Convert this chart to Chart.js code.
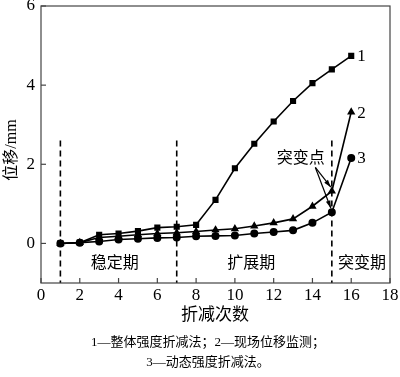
<!DOCTYPE html>
<html>
<head>
<meta charset="utf-8">
<script src="https://cdn.jsdelivr.net/npm/chart.js@4.4.1/dist/chart.umd.min.js"></script>
<style>
  body { margin: 0; background: #fff; }
  #wrap { width: 400px; height: 377px; position: relative; }
</style>
</head>
<body>
<div id="wrap"><canvas id="chart"></canvas></div>
<script>
// --- data ---
const steps = [1, 2, 3, 4, 5, 6, 7, 8, 9, 10, 11, 12, 13, 14, 15, 16];
const overallSrm = [0, 0.02, 0.22, 0.25, 0.31, 0.4, 0.42, 0.47, 1.1, 1.9, 2.52, 3.08, 3.6, 4.05, 4.4, 4.74];
const fieldMonitor = [0, 0.02, 0.15, 0.18, 0.22, 0.25, 0.27, 0.3, 0.34, 0.37, 0.44, 0.52, 0.62, 0.94, 1.32, 3.32];
const dynamicSrm = [0, 0.02, 0.05, 0.1, 0.12, 0.14, 0.15, 0.18, 0.19, 0.2, 0.25, 0.29, 0.33, 0.52, 0.79, 2.16];
const seriesNames = ['1', '2', '3'];
const phaseBounds = [1, 7, 15];
const phaseNames = ['稳定期', '扩展期', '突变期'];
const xTicks = [0, 2, 4, 6, 8, 10, 12, 14, 16, 18];
const yTicks = [0, 2, 4, 6];
const captionLines = ['1—整体强度折减法；2—现场位移监测；', '3—动态强度折减法。'];

const serif = '"Times New Roman", "Liberation Serif", serif';
const cjk = '"Times New Roman", "Noto Sans CJK SC", serif';

function pts(ys) {
  return steps.map((x, i) => ({ x: x, y: ys[i] }));
}

const lineStyle = {
  borderColor: '#000', backgroundColor: '#000',
  borderWidth: 1.6, pointRadius: 3.2, pointHoverRadius: 3.2,
  tension: 0
};

const datasets = [
  Object.assign({ label: seriesNames[0], data: pts(overallSrm), pointStyle: 'rect' }, lineStyle),
  Object.assign({ label: seriesNames[1], data: pts(fieldMonitor), pointStyle: 'triangle', pointRadius: 3.6 }, lineStyle),
  Object.assign({ label: seriesNames[2], data: pts(dynamicSrm), pointStyle: 'circle' }, lineStyle)
];

// dashed phase boundaries
phaseBounds.forEach(b => {
  datasets.push({
    label: 'bound', data: [{ x: b, y: 2.6 }, { x: b, y: -1 }],
    borderColor: '#000', borderWidth: 1.6, borderDash: [6, 4],
    pointRadius: 0, pointHoverRadius: 0
  });
});

// extra drawing: frame, inward ticks, labels, annotation arrows, caption
const decor = {
  id: 'decor',
  afterDraw(chart) {
    const ctx = chart.ctx;
    const xs = chart.scales.x, ys = chart.scales.y;
    const area = chart.chartArea;
    ctx.save();
    ctx.strokeStyle = '#444';
    ctx.lineWidth = 1.2;
    ctx.strokeRect(area.left, area.top, area.right - area.left, area.bottom - area.top);
    // inward ticks
    xTicks.forEach(t => {
      const px = xs.getPixelForValue(t);
      ctx.beginPath(); ctx.moveTo(px, area.bottom); ctx.lineTo(px, area.bottom - 5); ctx.stroke();
    });
    yTicks.forEach(t => {
      const py = ys.getPixelForValue(t);
      ctx.beginPath(); ctx.moveTo(area.left, py); ctx.lineTo(area.left + 5, py); ctx.stroke();
    });

    ctx.fillStyle = '#000';
    ctx.textBaseline = 'middle';
    // series end labels
    ctx.font = '17px ' + serif;
    ctx.textAlign = 'left';
    const ends = [overallSrm, fieldMonitor, dynamicSrm];
    ends.forEach((arr, i) => {
      const last = steps.length - 1;
      ctx.fillText(seriesNames[i], xs.getPixelForValue(steps[last]) + 6, ys.getPixelForValue(arr[last]) + 1);
    });

    // phase labels
    ctx.font = '16px ' + cjk;
    ctx.textAlign = 'center';
    const phaseX = [3.8, 10.85, 16.55];
    phaseNames.forEach((n, i) => {
      ctx.fillText(n, xs.getPixelForValue(phaseX[i]), ys.getPixelForValue(-0.52));
    });

    // 突变点 annotation
    ctx.fillText('突变点', xs.getPixelForValue(13.4), ys.getPixelForValue(2.13));
    const sx = xs.getPixelForValue(14.15), sy = ys.getPixelForValue(1.92);
    [fieldMonitor[14], dynamicSrm[14]].forEach(v => {
      const tx = xs.getPixelForValue(15) - 1, ty = ys.getPixelForValue(v) - 4;
      ctx.strokeStyle = '#000';
      ctx.lineWidth = 1.2;
      ctx.beginPath(); ctx.moveTo(sx, sy); ctx.lineTo(tx, ty); ctx.stroke();
      const a = Math.atan2(ty - sy, tx - sx);
      ctx.beginPath();
      ctx.moveTo(tx, ty);
      ctx.lineTo(tx - 8 * Math.cos(a - 0.3), ty - 8 * Math.sin(a - 0.3));
      ctx.lineTo(tx - 8 * Math.cos(a + 0.3), ty - 8 * Math.sin(a + 0.3));
      ctx.closePath(); ctx.fill();
    });

    // axis titles
    ctx.font = '17px ' + cjk;
    ctx.fillText('折减次数', 215, 316);
    ctx.save();
    ctx.translate(12, 150);
    ctx.rotate(-Math.PI / 2);
    ctx.font = '16px ' + cjk;
    ctx.fillText('位移/mm', 0, 0);
    ctx.restore();

    // caption
    ctx.font = '13px ' + cjk;
    ctx.fillText(captionLines[0], 208, 343);
    ctx.fillText(captionLines[1], 208, 363);
    ctx.restore();
  }
};

new Chart(document.getElementById('chart'), {
  type: 'line',
  data: { datasets: datasets },
  plugins: [decor],
  options: {
    responsive: true,
    maintainAspectRatio: false,
    animation: false,
    layout: { padding: { left: 0, top: 6, right: 10, bottom: 74 } },
    plugins: { legend: { display: false }, tooltip: { enabled: false } },
    scales: {
      x: {
        type: 'linear', min: 0, max: 18,
        afterFit: s => { s.height = 20; s.paddingLeft = 0; s.paddingRight = 0; },
        afterBuildTicks: s => { s.ticks = xTicks.map(v => ({ value: v })); },
        grid: { display: false, drawTicks: false },
        border: { display: false },
        ticks: { color: '#000', font: { family: serif, size: 17 }, padding: 2 }
      },
      y: {
        type: 'linear', min: -1, max: 6,
        afterFit: s => { s.width = 41; s.paddingTop = 0; s.paddingBottom = 0; },
        afterBuildTicks: s => { s.ticks = yTicks.map(v => ({ value: v })); },
        grid: { display: false, drawTicks: false },
        border: { display: false },
        ticks: { color: '#000', font: { family: serif, size: 17 }, padding: 6 }
      }
    }
  }
});
</script>
</body>
</html>
